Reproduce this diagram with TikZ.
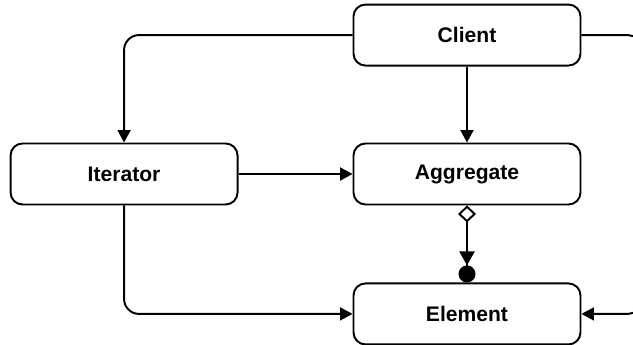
\documentclass[tikz,border=0pt]{standalone}
\usepackage{fontspec}
\newfontfamily\arialfont{Liberation Sans}
\usepackage{tikz}
\usetikzlibrary{calc,positioning,arrows.meta}

\begin{document}
\begin{tikzpicture}[
		line width=1.1pt,
		box/.style={shape=rectangle,draw,rounded corners=0.24cm,minimum width=4.54cm,minimum height=1.22cm,font=\arialfont\bfseries\fontsize{12}{14}\selectfont},
		link/.style={-{Triangle[length=0.25cm,width=0.26cm]}},
		wire/.style={link,rounded corners=0.3cm}
	]
		\useasboundingbox (0,0) rectangle (12.66,6.9);
		\clip (0,0) rectangle (12.66,6.9);
		\node(aggregate) [box] at (9.34,3.42) {Aggregate};
		\node(client)    [box,above=1.52 of aggregate] {Client};
		\node(element)   [box,below=1.54 of aggregate] {Element};
		\node(iterator)  [box,left=2.28 of aggregate] {Iterator};
		\draw[link] (client) -- (aggregate);
		\draw[link] (iterator) -- (aggregate);
		\draw[wire] (client.west) -| (iterator.north);
		\draw[wire] (iterator.south) |- (element.west);
		\draw[wire,rounded corners=0.26cm] (client.east) -- ++(1.19,0) |- (element.east);
		\draw[{Diamond[open,length=0.34cm,width=0.36cm]}-{Triangle[length=0.28cm,width=0.3cm]Circle[length=0.34cm]}] (aggregate) -- (element);
	\end{tikzpicture}
\end{document}
